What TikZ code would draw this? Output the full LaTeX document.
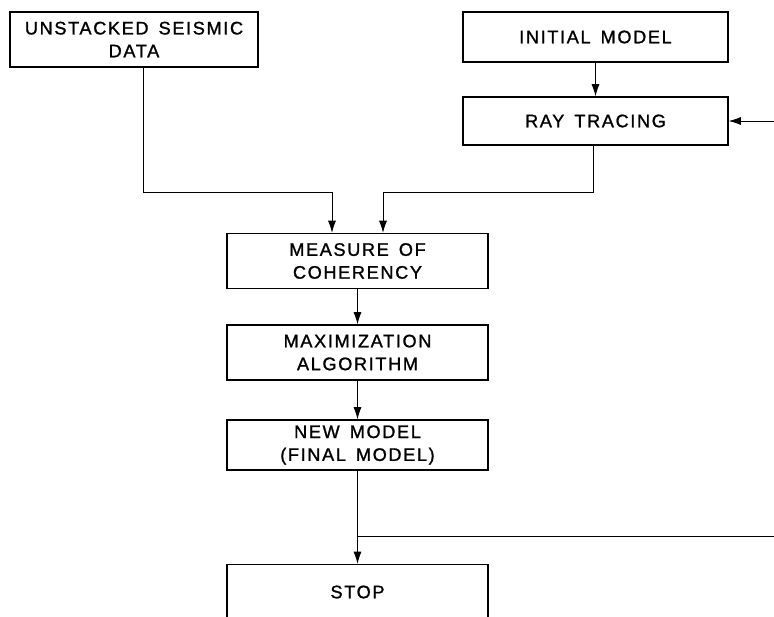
\documentclass[tikz,border=0pt]{standalone}
\usepackage{fontspec}
\setsansfont{Liberation Sans}[LetterSpace=9, WordSpace=1.5, FakeBold=1.2]
\usetikzlibrary{arrows.meta,positioning,calc}

\begin{document}
\begin{tikzpicture}[x=0.3mm, y=-0.3mm, >={Latex[length=3.6mm,width=2.4mm]}, line width=0.7pt,
    block/.style={draw, rectangle, line width=1.3pt, align=center, inner sep=0pt,
      font=\sffamily\fontsize{15.5}{19.5}\selectfont, minimum width=78.3mm, minimum height=16.5mm}]
        \useasboundingbox (0,0) rectangle (774,616);
        \clip (0,0) rectangle (774,616);

        \node[block, minimum width=74.4mm] (data) at (134,39.5) {UNSTACKED SEISMIC\\DATA};
        \node[block, minimum width=79.5mm, minimum height=15mm] (init) at (595.5,37) {INITIAL MODEL};
        \node[block, minimum width=79.5mm, minimum height=14.4mm] (ray) at (595.5,121) {RAY TRACING};
        \node[block] (coher) at (357.5,261) {MEASURE OF\\COHERENCY};
        \node[block] (maxi) at (357.5,352.5) {MAXIMIZATION\\ALGORITHM};
        \node[block, minimum height=15mm] (newmod) at (357.5,445) {NEW MODEL\\(FINAL MODEL)};
        \node[block] (stop) at (357.5,592) {STOP};

        \coordinate (jl) at (332,192);
        \coordinate (jr) at (383,192);
        \coordinate (split) at (357.5,536);
        \coordinate (fbr) at (800,536); % leaves the page

        \draw[->] ($(data.south)+(9,0)$) |- (jl) -- (jl |- coher.north);
        \draw[->] ($(ray.south)+(-2,0)$) |- (jr) -- (jr |- coher.north);
        \draw[->] (init) -- (ray);
        \draw[->] (coher) -- (maxi);
        \draw[->] (maxi) -- (newmod);
        \draw[->] (newmod) -- (stop);
        \draw[->] (split) -| (fbr) |- (ray.east);
    \end{tikzpicture}
\end{document}
